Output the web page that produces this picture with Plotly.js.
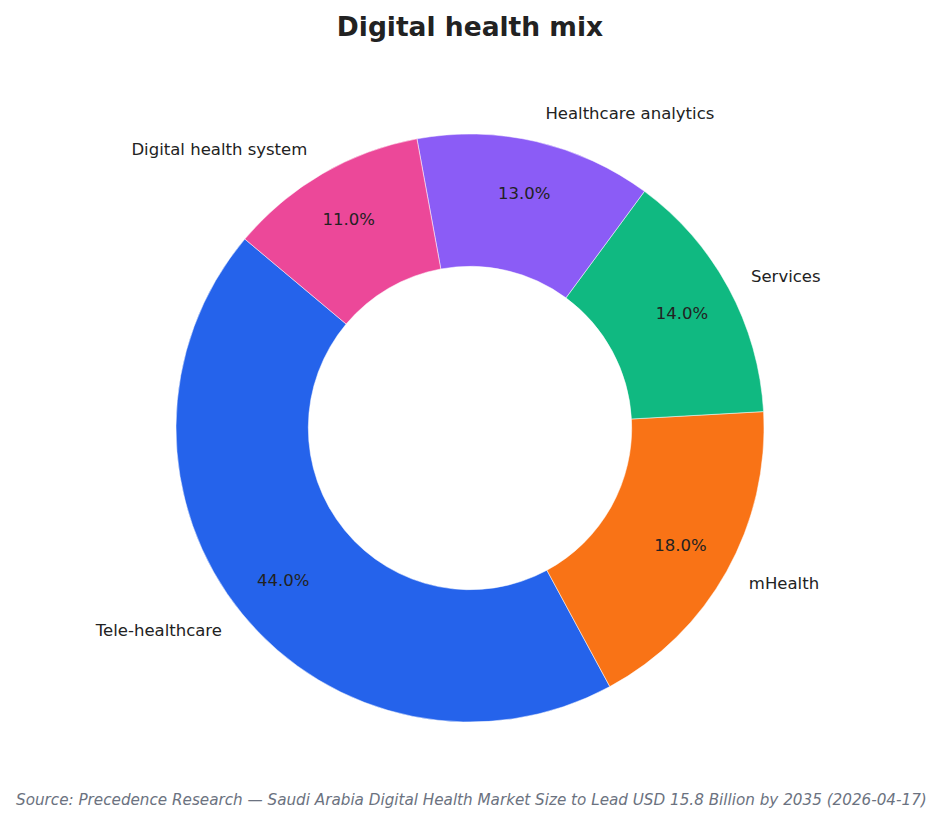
<!DOCTYPE html>
<html>
<head>
<meta charset="utf-8">
<script src="https://cdn.plot.ly/plotly-3.0.1.min.js"></script>
<style>
  html, body { margin: 0; padding: 0; background: #fff; }
  #chart { width: 940px; height: 824px; }
</style>
</head>
<body>
<div id="chart"></div>
<script>
const segments = ['Tele-healthcare', 'mHealth', 'Services', 'Healthcare analytics', 'Digital health system'];
const shares = [44, 18, 14, 13, 11];
const colors = ['#2563eb', '#f97316', '#10b981', '#8b5cf6', '#ec4899'];

const FONT = 'DejaVu Sans, sans-serif';
// first slice ends (clockwise side) 50deg left of 12 o'clock, slices run counterclockwise
const ROT = 151.6;

// plot box is 628px tall; the ring uses 588px of it, the label pies all of it
const PLOT_H = 628;
const RING_PAD = 20 / PLOT_H;
const CLEAR = segments.map(() => 'rgba(0,0,0,0)');

function basePie() {
    return {
        type: 'pie',
        labels: segments,
        values: shares,
        sort: false,
        direction: 'counterclockwise',
        rotation: ROT,
        showlegend: false
    };
}

// the coloured ring itself
const ring = Object.assign(basePie(), {
    hole: 0.55,
    domain: { x: [0, 1], y: [RING_PAD, 1 - RING_PAD] },
    marker: { colors: colors, line: { color: '#ffffff', width: 0.5 } },
    textinfo: 'none',
    hoverinfo: 'label+percent'
});

// invisible pie whose ring middle sits a bit further out, carries the percentages
const pcts = Object.assign(basePie(), {
    hole: 0.535,
    domain: { x: [0, 1], y: [0, 1] },
    marker: { colors: CLEAR, line: { width: 0 } },
    texttemplate: '%{percent:.1%}',
    textposition: 'inside',
    insidetextorientation: 'horizontal',
    textfont: { family: FONT, size: 16.5, color: '#222222' },
    hoverinfo: 'skip'
});

// invisible, slightly larger copy that only carries the outside labels
const names = Object.assign(basePie(), {
    hole: 0.55,
    domain: { x: [0, 1], y: [0, 1] },
    marker: { colors: CLEAR, line: { width: 0 } },
    textinfo: 'label',
    textposition: 'outside',
    outsidetextfont: { family: FONT, size: 16.5, color: '#222222' },
    hoverinfo: 'skip'
});

const layout = {
    width: 940,
    height: 824,
    paper_bgcolor: '#ffffff',
    plot_bgcolor: '#ffffff',
    margin: { t: 114, b: 82, l: 60, r: 60 },
    font: { family: FONT, color: '#222222' },
    title: {
        text: '<b>Digital health mix</b>',
        x: 0.5, xref: 'paper',
        y: 1 - 27 / 824, yref: 'container', yanchor: 'middle',
        font: { family: FONT, size: 26.5, color: '#222222' }
    },
    annotations: [{
        text: '<i>Source: Precedence Research — Saudi Arabia Digital Health Market Size to Lead USD 15.8 Billion by 2035 (2026-04-17)</i>',
        xref: 'paper', yref: 'paper',
        x: -46 / 820, y: -(800 - 742) / PLOT_H,
        xanchor: 'left', yanchor: 'middle',
        showarrow: false,
        font: { family: FONT, size: 15.2, color: '#6b7280' }
    }]
};

Plotly.newPlot('chart', [ring, pcts, names], layout, { displayModeBar: false });
</script>
</body>
</html>
